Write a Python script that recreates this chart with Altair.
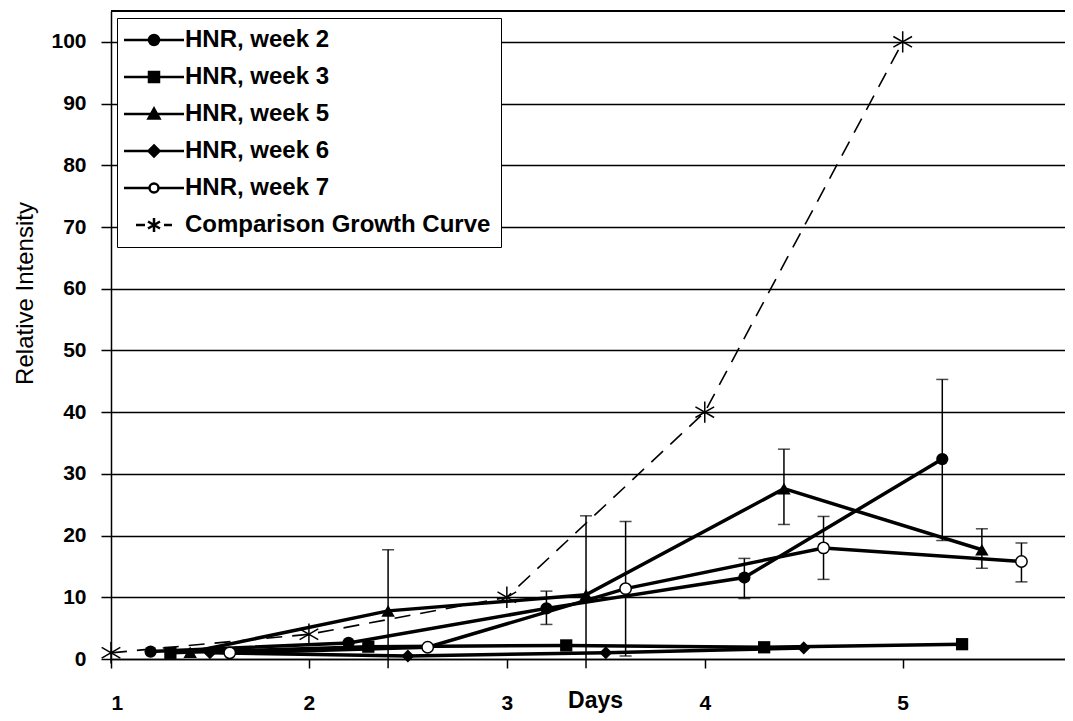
import altair as alt
import pandas as pd

series = ["HNR, week 2", "HNR, week 3", "HNR, week 5", "HNR, week 6",
          "HNR, week 7", "Comparison Growth Curve"]

week2_days = [1.2, 2.2, 3.2, 4.2, 5.2]
week2_vals = [1.2, 2.6, 8.2, 13.2, 32.4]
week3_days = [1.3, 2.3, 3.3, 4.3, 5.3]
week3_vals = [1.0, 2.0, 2.2, 1.9, 2.4]
week5_days = [1.4, 2.4, 3.4, 4.4, 5.4]
week5_vals = [1.1, 7.8, 10.4, 27.6, 17.7]
week6_days = [1.5, 2.5, 3.5, 4.5]
week6_vals = [1.0, 0.5, 1.0, 1.8]
week7_days = [1.6, 2.6, 3.6, 4.6, 5.6]
week7_vals = [1.0, 1.9, 11.4, 18.0, 15.8]
comp_days = [1, 2, 3, 4, 5]
comp_vals = [1, 4, 10, 40, 100]

err_series = ["HNR, week 2"] * 3 + ["HNR, week 5"] * 4 + ["HNR, week 7"] * 3
err_days = [3.2, 4.2, 5.2, 2.4, 3.4, 4.4, 5.4, 3.6, 4.6, 5.6]
err_low = [5.6, 9.8, 19.2, -1.5, -1.5, 21.8, 14.7, 0.5, 12.9, 12.5]
err_high = [11.0, 16.3, 45.3, 17.7, 23.2, 34.0, 21.1, 22.3, 23.1, 18.8]

y_ticks = [0, 10, 20, 30, 40, 50, 60, 70, 80, 90, 100]
x_ticks = [1, 2, 3, 4, 5]

all_days = [week2_days, week3_days, week5_days, week6_days, week7_days, comp_days]
all_vals = [week2_vals, week3_vals, week5_vals, week6_vals, week7_vals, comp_vals]
rows = []
for s, ds, vs in zip(series, all_days, all_vals):
    for d, v in zip(ds, vs):
        rows.append({"series": s, "day": d, "value": v})
df = pd.DataFrame(rows)
err = pd.DataFrame({"series": err_series, "day": err_days, "low": err_low, "high": err_high})

FONT = "Liberation Sans"
STAR = "M0,-1V1M-0.87,-0.5L0.87,0.5M-0.87,0.5L0.87,-0.5"

xs = alt.Scale(domain=[1, 5.82], nice=False, zero=False)
ys = alt.Scale(domain=[0, 105], nice=False)

x_enc = alt.X("day:Q", scale=xs, axis=alt.Axis(
    values=x_ticks, format="d", grid=False, title="Days",
    titleX=484, titleY=41, titleBaseline="middle", titleFont=FONT,
    titleFontSize=23, titleFontWeight="bold", titleColor="black",
    labelFont=FONT, labelFontSize=21, labelFontWeight="bold", labelColor="black",
    labelPadding=24, tickSize=9, tickColor="black", tickWidth=1.5,
    domainColor="black", domainWidth=1.5))
y_enc = alt.Y("value:Q", scale=ys, axis=alt.Axis(
    values=y_ticks, grid=True, gridColor="black", gridWidth=1.5, gridOpacity=1,
    title="Relative Intensity", titleX=-86, titleY=282, titleAlign="center",
    titleBaseline="middle", titleFont=FONT, titleFontSize=24,
    titleFontWeight="normal", titleColor="black",
    labelFont=FONT, labelFontSize=21, labelFontWeight="bold", labelColor="black",
    labelPadding=15, tickSize=10, tickColor="black", tickWidth=1.5,
    domainColor="black", domainWidth=1.5))

base = alt.Chart(df)

top_border = alt.Chart(df).mark_rule(color="black", strokeWidth=1.5).encode(
    y=alt.value(0))

err_rules = alt.Chart(err).mark_rule(color="black", strokeWidth=1.5).encode(
    x=alt.X("day:Q", scale=xs), y=alt.Y("low:Q", scale=ys), y2="high:Q")
cap_hi = alt.Chart(err).mark_tick(color="black", orient="horizontal", size=12,
                                  thickness=1.5).encode(
    x=alt.X("day:Q", scale=xs), y=alt.Y("high:Q", scale=ys))
cap_lo = alt.Chart(err).transform_filter("datum.low >= 0").mark_tick(
    color="black", orient="horizontal", size=12, thickness=1.5).encode(
    x=alt.X("day:Q", scale=xs), y=alt.Y("low:Q", scale=ys))

lines = base.transform_filter(
    alt.datum.series != "Comparison Growth Curve").mark_line(
    color="black", strokeWidth=3.5).encode(x=x_enc, y=y_enc, detail="series:N",
                                           order="day:Q")
comp_line = base.transform_filter(
    alt.datum.series == "Comparison Growth Curve").mark_line(
    color="black", strokeWidth=1.6, strokeDash=[16, 10]).encode(
    x=alt.X("day:Q", scale=xs), y=alt.Y("value:Q", scale=ys), order="day:Q")

marker_specs = [
    ("HNR, week 2", dict(shape="circle", filled=True, size=150, color="black")),
    ("HNR, week 3", dict(shape="square", filled=True, size=150, color="black")),
    ("HNR, week 5", dict(shape="triangle-up", filled=True, size=180, color="black")),
    ("HNR, week 6", dict(shape="diamond", filled=True, size=170, color="black")),
    ("HNR, week 7", dict(shape="circle", filled=True, size=130, fill="white",
                         stroke="black", strokeWidth=1.5)),
    ("Comparison Growth Curve", dict(shape=STAR, filled=False, size=460,
                                     stroke="black", strokeWidth=1.5)),
]
point_layers = []
for s, kw in marker_specs:
    point_layers.append(
        base.transform_filter(alt.datum.series == s).mark_point(opacity=1, **kw).encode(
            x=alt.X("day:Q", scale=xs), y=alt.Y("value:Q", scale=ys)))

legend_paths = [
    "M-3,0H-0.5M0.5,0H3M0.5,0A0.5,0.5,0,1,1,-0.5,0A0.5,0.5,0,1,1,0.5,0Z",
    "M-3,0H3M-0.5,-0.5H0.5V0.5H-0.5Z",
    "M-3,0H3M0,-0.55L0.55,0.45H-0.55Z",
    "M-3,0H3M0,-0.55L0.55,0L0,0.55L-0.55,0Z",
    "M-3,0H-0.45M0.45,0H3M0.45,0A0.45,0.45,0,1,1,-0.45,0A0.45,0.45,0,1,1,0.45,0Z",
    "M-1.8,0H-0.9M1.0,0H1.8M0,-0.7V0.7M-0.6,-0.35L0.6,0.35M-0.6,0.35L0.6,-0.35",
]
legend_fills = ["black", "black", "black", "black", "white", "black"]
legend_strokes = ["black"] * 6

leg = alt.Legend(title=None, orient="none", legendX=6, legendY=7,
                 symbolSize=400, symbolStrokeColor="black", symbolStrokeWidth=2.5,
                 symbolOpacity=1, labelFont=FONT, labelFontSize=24,
                 labelFontWeight="bold", labelColor="black", labelLimit=0,
                 strokeColor="black", fillColor="white", padding=10,
                 rowPadding=13, symbolOffset=15, labelOffset=19)
legend_layer = base.mark_point(filled=True, opacity=0).encode(
    x=alt.X("day:Q", scale=xs), y=alt.Y("value:Q", scale=ys),
    shape=alt.Shape("series:N", scale=alt.Scale(domain=series, range=legend_paths),
                    legend=leg, sort=series),
    fill=alt.Fill("series:N", scale=alt.Scale(domain=series, range=legend_fills),
                  legend=leg, sort=series),
    stroke=alt.Stroke("series:N", scale=alt.Scale(domain=series, range=legend_strokes),
                      legend=leg, sort=series))

chart = alt.layer(
    lines.mark_line(opacity=0).encode(x=x_enc, y=y_enc),
    top_border, err_rules, cap_hi, cap_lo, lines, comp_line,
    *point_layers, legend_layer
).properties(
    width=954, height=648,
    autosize=alt.AutoSizeParams(type="none"),
    padding={"left": 103, "top": 3, "right": 0, "bottom": 54},
    background="white"
).configure_view(stroke=None)

chart.save("out.html", embed_options={"renderer": "svg", "actions": False})
